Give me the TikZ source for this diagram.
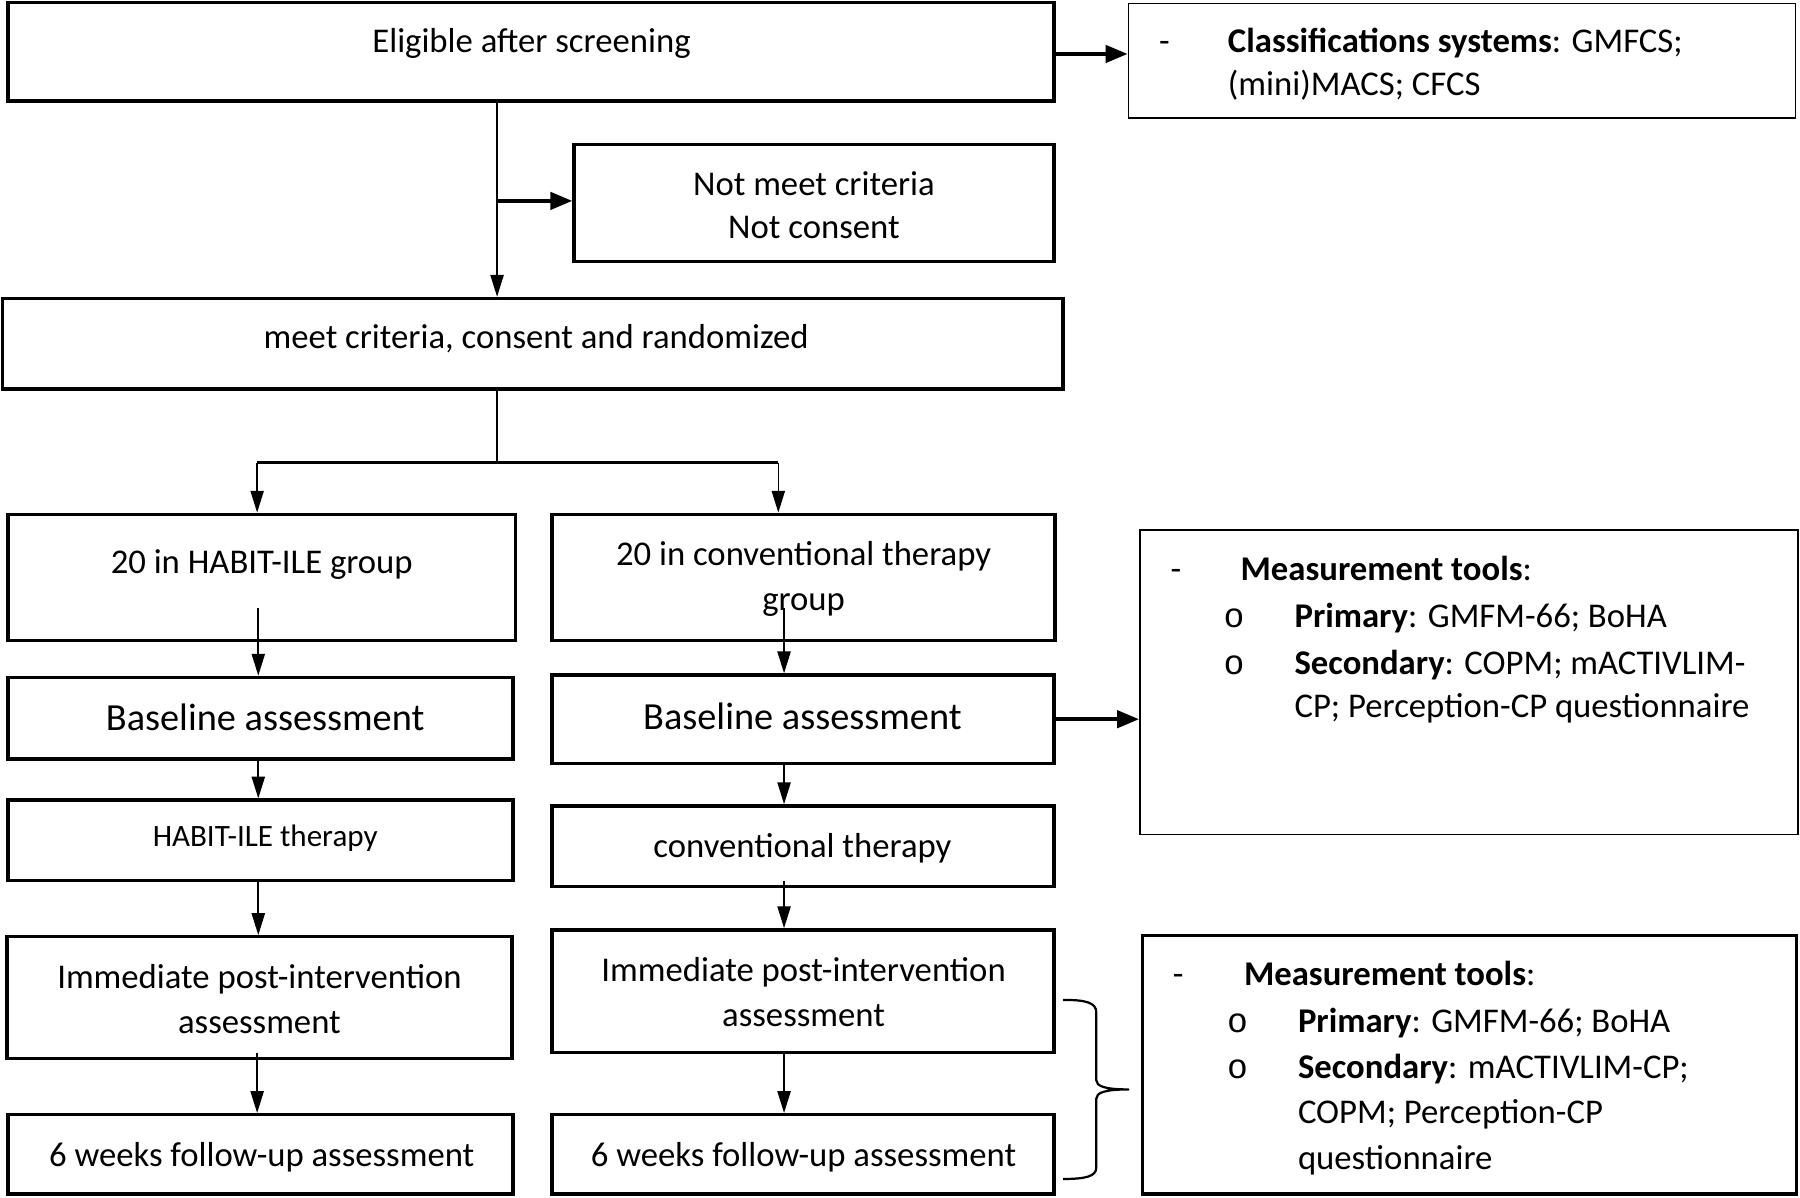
\documentclass[tikz,border=0pt]{standalone}
\usepackage{fontspec}
\setmainfont{Carlito}
\newfontfamily\bulletfont{Liberation Mono}
\usetikzlibrary{arrows.meta,fit,calc}
\begin{document}
\begin{tikzpicture}[x=0.1mm,y=-0.1mm,
  thickbox/.style={draw, line width=0.85pt, inner sep=0pt, fit={#1}},
  thinbox/.style={draw, line width=0.45pt, inner sep=0pt, fit={#1}},
  arr/.style={-{Triangle[length=1.9mm,width=1.15mm]}, line width=0.4pt},
  harr/.style={-{Triangle[length=1.9mm,width=1.5mm]}, line width=0.9pt},
  txt/.style={inner sep=0pt, anchor=mid, yshift=-0.2mm, font=\fontsize{8.6}{10}\selectfont},
  ltxt/.style={inner sep=0pt, anchor=mid west, yshift=-0.2mm, font=\fontsize{8.6}{10}\selectfont},
  bigtxt/.style={inner sep=0pt, anchor=mid, yshift=-0.2mm, font=\fontsize{9.5}{11}\selectfont},
  smtxt/.style={inner sep=0pt, anchor=mid, yshift=-0.2mm, font=\fontsize{7.7}{9}\selectfont},
  bul/.style={inner sep=0pt, anchor=mid, yshift=-0.2mm, font=\fontsize{8.6}{10}\bulletfont}
]
\useasboundingbox (0,0) rectangle (1568,1043);

% boxes
\node[thickbox={(7,2) (918,88)}] (elig) {};
\node[thinbox={(983,3) (1564,103)}] (cls) {};
\node[thickbox={(500,126) (918,228)}] (notmeet) {};
\node[thickbox={(2,260) (926,339)}] (rand) {};
\node[thickbox={(7,448) (449,558)}] (l1) {};
\node[thickbox={(481,448) (919,558)}] (r1) {};
\node[thickbox={(7,590) (447,661)}] (l2) {};
\node[thickbox={(481,588) (918,665)}] (r2) {};
\node[thinbox={(993,462) (1566,727)}] (m1) {};
\node[thickbox={(7,697) (447,767)}] (l3) {};
\node[thickbox={(481,702) (918,772)}] (r3) {};
\node[thickbox={(6,816) (446,922)}] (l4) {};
\node[thickbox={(481,810) (918,917)}] (r4) {};
\node[thickbox={(7,971) (447,1040)}] (l5) {};
\node[thickbox={(481,971) (918,1040)}] (r5) {};
\node[thickbox={(995,815) (1565,1040)}] (m2) {};

% texts
\node[txt] (t1) at (463,35) {Eligible after screening};
\node[ltxt] (c0) at (1009,35) {-};
\node[ltxt] (c1) at (1069,35) {\textbf{Classifications systems}: GMFCS;};
\node[ltxt] (c2) at (1069,73) {(mini)MACS; CFCS};
\node[txt] (nm1) at (709,160) {Not meet criteria};
\node[txt] (nm2) at (709,197) {Not consent};
\node[txt] (tr) at (467,293) {meet criteria, consent and randomized};
\node[txt] (tl1) at (228,489) {20 in HABIT-ILE group};
\node[txt] (tr1a) at (700,482) {20 in conventional therapy};
\node[txt] (tr1b) at (700,521) {group};
\node[bigtxt] (tl2) at (231,626) {Baseline assessment};
\node[bigtxt] (tr2) at (699,625) {Baseline assessment};
\node[smtxt] (tl3) at (231,727) {HABIT-ILE therapy};
\node[txt] (tr3) at (699,737) {conventional therapy};
\node[txt] (tl4a) at (226,851) {Immediate post-intervention};
\node[txt] (tl4b) at (226,890) {assessment};
\node[txt] (tr4a) at (700,845) {Immediate post-intervention};
\node[txt] (tr4b) at (700,884) {assessment};
\node[txt] (tl5) at (228,1006) {6 weeks follow-up assessment};
\node[txt] (tr5) at (700,1006) {6 weeks follow-up assessment};

\node[ltxt] (ma0) at (1019,495) {-};
\node[ltxt] (ma1) at (1080,495) {\textbf{Measurement tools}:};
\node[bul] (mab1) at (1075,536) {o};
\node[ltxt] (ma2) at (1127,536) {\textbf{Primary}: GMFM-66; BoHA};
\node[bul] (mab2) at (1075,577) {o};
\node[ltxt] (ma3) at (1127,577) {\textbf{Secondary}: COPM; mACTIVLIM-};
\node[ltxt] (ma4) at (1127,615) {CP; Perception-CP questionnaire};

\node[ltxt] (mb0) at (1021,848) {-};
\node[ltxt] (mb1) at (1083,848) {\textbf{Measurement tools}:};
\node[bul] (mbb1) at (1078,889) {o};
\node[ltxt] (mb2) at (1130,889) {\textbf{Primary}: GMFM-66; BoHA};
\node[bul] (mbb2) at (1078,929) {o};
\node[ltxt] (mb3) at (1130,929) {\textbf{Secondary}: mACTIVLIM-CP;};
\node[ltxt] (mb4) at (1130,968) {COPM; Perception-CP};
\node[ltxt] (mb5) at (1130,1008) {questionnaire};

% helper coordinates
\coordinate (xa) at (433,0);
\coordinate (ya) at (0,175);
\coordinate (yb) at (0,403);
\coordinate (xl) at (225,0);
\coordinate (xr) at (683,0);
\coordinate (xlb) at (224,0);
\coordinate (xrb) at (678,0);
\coordinate (ys1) at (0,530);
\coordinate (ys3) at (0,767);
\coordinate (ys4) at (0,917);
\coordinate (ye) at (0,47);

% connectors
\draw[harr] (elig.east |- ye) -- (cls.west |- ye);
\draw[arr] (xa |- elig.south) -- (xa |- rand.north);
\draw[harr] (xa |- ya) -- (notmeet.west |- ya);
\draw[line width=0.4pt] (xa |- rand.south) -- (xa |- yb);
\draw[line width=0.7pt] (xlb |- yb) -- (xrb |- yb);
\draw[arr] (xlb |- yb) -- (xlb |- l1.north);
\draw[arr] (xrb |- yb) -- (xrb |- r1.north);
\draw[arr] (xl |- ys1) -- (xl |- l2.north);
\draw[arr] (xr |- ys1) -- (xr |- r2.north);
\draw[arr] (xl |- l2.south) -- (xl |- l3.north);
\draw[arr] (xr |- r2.south) -- (xr |- r3.north);
\draw[harr] (r2.east) -- (m1.west |- r2.east);
\draw[arr] (xl |- l3.south) -- (xl |- l4.north);
\draw[arr] (xr |- ys3) -- (xr |- r4.north);
\draw[arr] (xlb |- ys4) -- (xlb |- l5.north);
\draw[arr] (xr |- r4.south) -- (xr |- r5.north);

% brace
\coordinate (bt) at (926,871);
\coordinate (bb) at (926,1027);
\coordinate (btip) at (983,949);
\draw[line width=0.55pt, line join=round]
  (bt) .. controls (945,871) and (955,873) .. (955,882) -- (955,941)
  .. controls (955,946) and (962,949) .. (btip)
  .. controls (962,949) and (955,952) .. (955,957) -- (955,1017)
  .. controls (955,1025) and (945,1027) .. (bb);
\end{tikzpicture}
\end{document}
